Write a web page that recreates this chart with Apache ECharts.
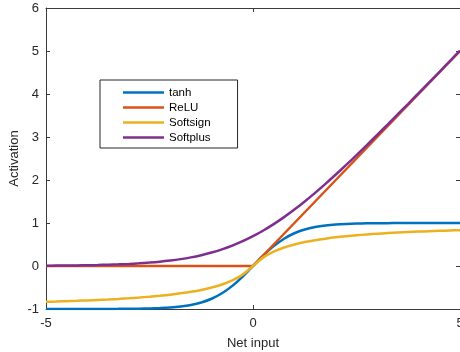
<!DOCTYPE html>
<html>
<head>
<meta charset="utf-8">
<script src="https://cdn.jsdelivr.net/npm/echarts@6/dist/echarts.min.js"></script>
<style>
  html, body { margin: 0; padding: 0; background: #fff; overflow: hidden; }
  #chart { width: 460px; height: 352px; }
</style>
</head>
<body>
<div id="chart"></div>
<script>
// Net input samples (step 0.25)
const netInput = [-5, -4.75, -4.5, -4.25, -4, -3.75, -3.5, -3.25, -3, -2.75, -2.5, -2.25, -2, -1.75, -1.5, -1.25, -1, -0.75, -0.5, -0.25,
  0, 0.25, 0.5, 0.75, 1, 1.25, 1.5, 1.75, 2, 2.25, 2.5, 2.75, 3, 3.25, 3.5, 3.75, 4, 4.25, 4.5, 4.75, 5];

const tanhValues = [-1.000, -1.000, -1.000, -1.000, -0.999, -0.999, -0.998, -0.997, -0.995, -0.992, -0.987, -0.978, -0.964, -0.941, -0.905, -0.848, -0.762, -0.635, -0.462, -0.245,
  0, 0.245, 0.462, 0.635, 0.762, 0.848, 0.905, 0.941, 0.964, 0.978, 0.987, 0.992, 0.995, 0.997, 0.998, 0.999, 0.999, 1.000, 1.000, 1.000, 1.000];

const reluValues = [0, 0, 0, 0, 0, 0, 0, 0, 0, 0, 0, 0, 0, 0, 0, 0, 0, 0, 0, 0,
  0, 0.25, 0.5, 0.75, 1, 1.25, 1.5, 1.75, 2, 2.25, 2.5, 2.75, 3, 3.25, 3.5, 3.75, 4, 4.25, 4.5, 4.75, 5];

const softsignValues = [-0.833, -0.826, -0.818, -0.810, -0.800, -0.789, -0.778, -0.765, -0.750, -0.733, -0.714, -0.692, -0.667, -0.636, -0.600, -0.556, -0.500, -0.429, -0.333, -0.200,
  0, 0.200, 0.333, 0.429, 0.500, 0.556, 0.600, 0.636, 0.667, 0.692, 0.714, 0.733, 0.750, 0.765, 0.778, 0.789, 0.800, 0.810, 0.818, 0.826, 0.833];

const softplusValues = [0.007, 0.009, 0.011, 0.014, 0.018, 0.023, 0.030, 0.038, 0.049, 0.062, 0.079, 0.100, 0.127, 0.160, 0.201, 0.252, 0.313, 0.387, 0.474, 0.576,
  0.693, 0.826, 0.974, 1.137, 1.313, 1.502, 1.701, 1.910, 2.127, 2.350, 2.579, 2.812, 3.049, 3.288, 3.530, 3.773, 4.018, 4.264, 4.511, 4.759, 5.007];

const seriesNames = ['tanh', 'ReLU', 'Softsign', 'Softplus'];
const seriesColors = ['#0072BD', '#D95319', '#EDB120', '#7E2F8E'];
const xTicks = { min: -5, max: 5, interval: 5 };
const yTicks = { min: -1, max: 6, interval: 1 };

const allValues = [tanhValues, reluValues, softsignValues, softplusValues];
const pairs = vals => netInput.map((x, i) => [x, vals[i]]);

const axisColor = '#3a3a3a';
const textColor = '#262626';
const font = '"Liberation Sans", Arial, Helvetica, sans-serif';

// Box-style axis: line on every side, short ticks pointing inward
const boxAxis = (extra) => Object.assign({
  type: 'value',
  splitLine: { show: false },
  axisLine: { show: true, onZero: false, lineStyle: { color: axisColor, width: 1 } },
  axisTick: { show: true, inside: true, length: 4, lineStyle: { color: axisColor } },
}, extra);

const chart = echarts.init(document.getElementById('chart'), null, { renderer: 'canvas' });
chart.setOption({
  animation: false,
  backgroundColor: '#ffffff',
  // the right edge of the box sits on the canvas edge, so its "5" label is cut in half
  grid: { left: 46, right: 0, top: 8, bottom: 43, containLabel: false, outerBoundsMode: 'none' },
  legend: {
    orient: 'vertical',
    left: 100, top: 80,
    data: seriesNames,
    icon: 'rect',
    itemWidth: 41, itemHeight: 2.5, itemGap: 2,
    padding: [6, 27, 4, 23],
    borderColor: '#262626', borderWidth: 1,
    backgroundColor: '#ffffff',
    textStyle: { fontFamily: font, fontSize: 11.5, color: '#000', lineHeight: 13 }
  },
  xAxis: [
    boxAxis(Object.assign({}, xTicks, {
      position: 'bottom',
      name: 'Net input', nameLocation: 'middle', nameGap: 28, nameMoveOverlap: false,
      nameTextStyle: { fontFamily: font, fontSize: 13, color: textColor },
      axisLabel: { margin: 8, fontFamily: font, fontSize: 13, color: textColor }
    })),
    boxAxis(Object.assign({}, xTicks, { position: 'top', axisLabel: { show: false } }))
  ],
  yAxis: [
    boxAxis(Object.assign({}, yTicks, {
      position: 'left',
      name: 'Activation', nameLocation: 'middle', nameGap: 25, nameMoveOverlap: false,
      nameTextStyle: { fontFamily: font, fontSize: 13, color: textColor },
      axisLabel: { margin: 7, fontFamily: font, fontSize: 13, color: textColor }
    })),
    boxAxis(Object.assign({}, yTicks, { position: 'right', axisLabel: { show: false } }))
  ],
  series: seriesNames.map((name, k) => ({
    name,
    type: 'line',
    xAxisIndex: 0, yAxisIndex: 0,
    data: pairs(allValues[k]),
    symbol: 'none', showSymbol: false,
    smooth: name === 'ReLU' ? false : 0.3,
    color: seriesColors[k],
    lineStyle: { width: 2.5, color: seriesColors[k] },
    z: 2 + k
  }))
});
</script>
</body>
</html>
